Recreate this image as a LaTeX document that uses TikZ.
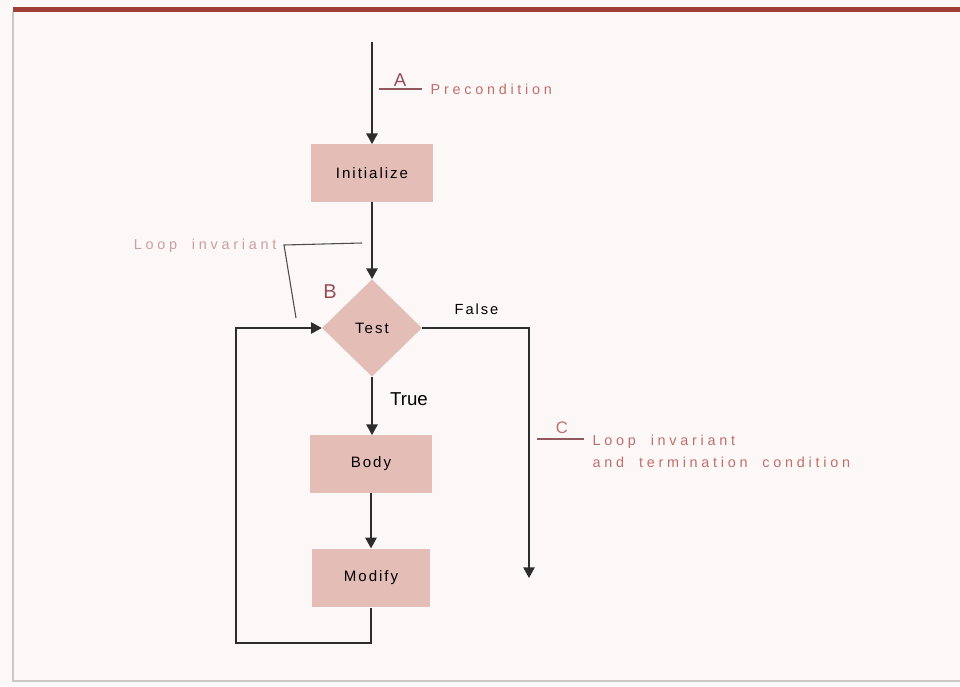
\documentclass[tikz,border=0pt]{standalone}
\usepackage{fontspec}
\setmainfont{Liberation Sans}
\newfontfamily\redspaced[LetterSpace=26,WordSpace=1.6]{Liberation Sans}
\newfontfamily\blkspaced[LetterSpace=13]{Liberation Sans}
\usetikzlibrary{arrows.meta,shapes.geometric}

\definecolor{pagebg}{RGB}{253,248,248}
\definecolor{barred}{RGB}{160,62,56}
\definecolor{framegray}{RGB}{205,200,200}
\definecolor{boxpink}{RGB}{229,189,183}
\definecolor{flowline}{RGB}{45,45,45}
\definecolor{notered}{RGB}{192,110,105}
\definecolor{notepale}{RGB}{204,158,156}
\definecolor{markred}{RGB}{150,78,86}

\tikzset{
    stepbox/.style={rectangle, fill=boxpink, minimum width=91pt, minimum height=43pt,
        inner sep=0pt, font=\fontsize{11.3}{12}\blkspaced},
    testbox/.style={diamond, fill=boxpink, aspect=1, minimum width=75pt,
        minimum height=73pt, inner sep=0pt, font=\fontsize{11.3}{12}\blkspaced},
    flow/.style={line width=1.1pt, draw=flowline},
    note/.style={text=notered, font=\fontsize{10.8}{16.5}\redspaced},
    marklabel/.style={text=markred, font=\fontsize{14}{14}\selectfont},
    leader/.style={line width=0.9pt, draw=markred!80!gray}
}

\begin{document}
\begin{tikzpicture}[x=0.75pt, y=-0.75pt, >={Triangle[length=8pt,width=8.5pt]}]
            % ==== PAGE ====
            \useasboundingbox (0,0) rectangle (960,686);
            \fill[pagebg] (0,0) rectangle (960,686);
            \draw[barred, line width=3.8pt] (13,9.5) -- (960,9.5);
            \draw[framegray, line width=0.8pt] (13,12) -- (13,681) -- (960,681);

            % ==== BOXES ====
            \node[stepbox] (init) at (372,173) {Initialize};
            \node[testbox] (test) at (372,328) {Test};
            \node[stepbox] (body) at (371,464) {Body};
            \node[stepbox, minimum width=89pt, minimum height=44pt] (modify) at (371,578) {Modify};

            % ==== FLOW ====
            \coordinate (start) at (372,42);
            \coordinate (exit) at (529,578);
            \draw[flow, ->] (start) -- (init);
            \draw[flow, ->] (init) -- (test);
            \draw[flow, ->] (test.south) -- (test.south |- body.north);
            \draw[flow, ->] (body) -- (modify);
            \draw[flow, ->] (modify.south) -- (371,643) -- (236,643) |- (test.west);
            \draw[flow, ->] (test.east) -| (exit);

            \node[font=\fontsize{11}{12}\blkspaced, anchor=south west] (false) at (450,319) {False};
            \node[font=\fontsize{14}{14}\selectfont] (true) at (409,399) {True};

            % ==== A: PRECONDITION ====
            \node[marklabel] (marka) at (400,80) {A};
            \draw[leader] (379,89) coordinate (alft) -- (422,89) coordinate (argt);
            \node[note, anchor=west] (pre) at (426,89) {Precondition};

            % ==== B: LOOP INVARIANT ====
            \node[marklabel, font=\fontsize{15}{15}\selectfont] (markb) at (330,292) {B};
            \node[note, text=notepale, anchor=east] (inv) at (281,246) {Loop\, invariant};
            \coordinate (invtop) at (362,243);
            \coordinate (invtip) at (296,318);
            \draw[flowline!85, line width=0.8pt] (invtop) -- (284,245) -- (invtip);

            % ==== C: TERMINATION ====
            \node[marklabel, text=notered, font=\fontsize{12.5}{12}\selectfont] (markc) at (562,428) {C};
            \draw[leader] (537,439) -- (584,439);
            \node[note, anchor=west, align=left] (term) at (588,451) {Loop\, invariant\\and\, termination\, condition};
\end{tikzpicture}
\end{document}
